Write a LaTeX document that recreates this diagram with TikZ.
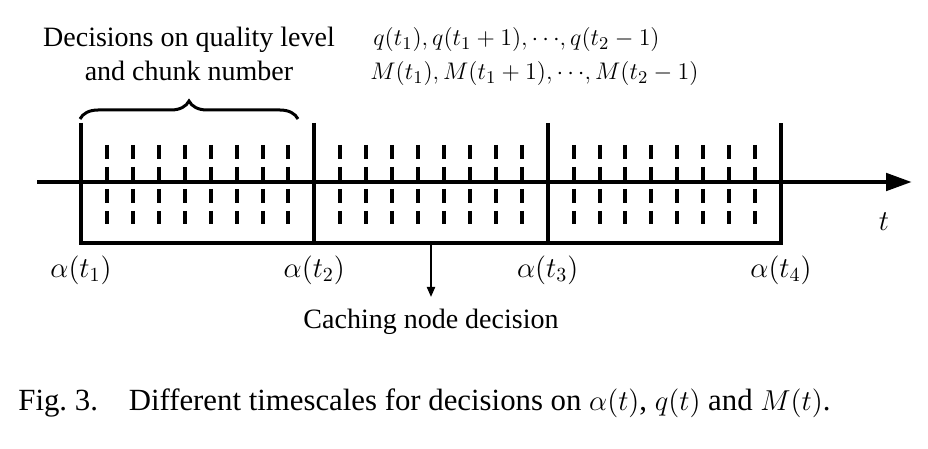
\documentclass[tikz,border=0pt]{standalone}
\usepackage{amsmath}
\usepackage{fontspec}
\setmainfont{Liberation Serif}
\usetikzlibrary{arrows.meta}
\usetikzlibrary{decorations.pathreplacing}

\begin{document}
\begin{tikzpicture}[
            x=0.5pt, y=-0.5pt,
            axis/.style={
                line width=2.4pt,
                -{Triangle[length=13pt, width=8.5pt]}
            },
            bound/.style={line width=2pt},
            slot/.style={line width=2pt, dash pattern=on 7pt off 4pt},
            lbl/.style={font=\fontsize{14}{16}\selectfont, inner sep=0pt}
        ]
        \useasboundingbox (0,0) rectangle (928,449);
        % time axis
        \coordinate (start) at (37,182);
        \coordinate (end) at (912,182);
        \draw[axis] (start) -- (end);
        \node[lbl] (tlabel) at (884,222) {$t$};
        % slots inside each period
        \foreach \j in {0,1,2} {
            \foreach \i in {1,...,8} {
                \draw[slot] ({81+\j*233.33+\i*25.93},145) -- ({81+\j*233.33+\i*25.93},224);
            }
        }
        % period boundaries
        \foreach \k/\x in {1/81, 2/314.33, 3/547.67, 4/781} {
            \coordinate (top\k) at (\x,123);
            \coordinate (bot\k) at (\x,243);
            \node[lbl] (alpha\k) at (\x,270) {$\alpha(t_\k)$};
        }
        \draw[bound] (top1) -- (bot1) -- (bot4) -- (top4);
        \draw[bound] (top2) -- (bot2);
        \draw[bound] (top3) -- (bot3);
        % decisions inside first period
        \draw[line width=1.5pt, decorate, decoration={brace, amplitude=9pt}]
            (80,119) -- (298,119);
        \node[lbl, align=center] (decide) at (189,54) {Decisions on quality level\\[1pt] and chunk number};
        \node[lbl, font=\fontsize{13}{15}\selectfont, anchor=west] (qdec) at (373,40)
            {$q(t_1),q(t_1+1),{\cdots},q(t_2-1)$};
        \node[lbl, font=\fontsize{13}{15}\selectfont, anchor=west] (mdec) at (370,74)
            {$M(t_1),M(t_1+1),{\cdots},M(t_2-1)$};
        % caching decision
        \coordinate (cachetop) at (431,245);
        \node[lbl] (cache) at (431,322) {Caching node decision};
        \draw[line width=1pt, -{Triangle[length=5pt, width=4pt]}] (cachetop) -- (cache.north |- 0,297);
        % caption
        \node[lbl, font=\fontsize{15.4}{17}\selectfont, anchor=west] (caption) at (18,403)
            {Fig.~3.\quad Different timescales for decisions on $\alpha(t)$, $q(t)$ and $M(t)$.};
\end{tikzpicture}
\end{document}
